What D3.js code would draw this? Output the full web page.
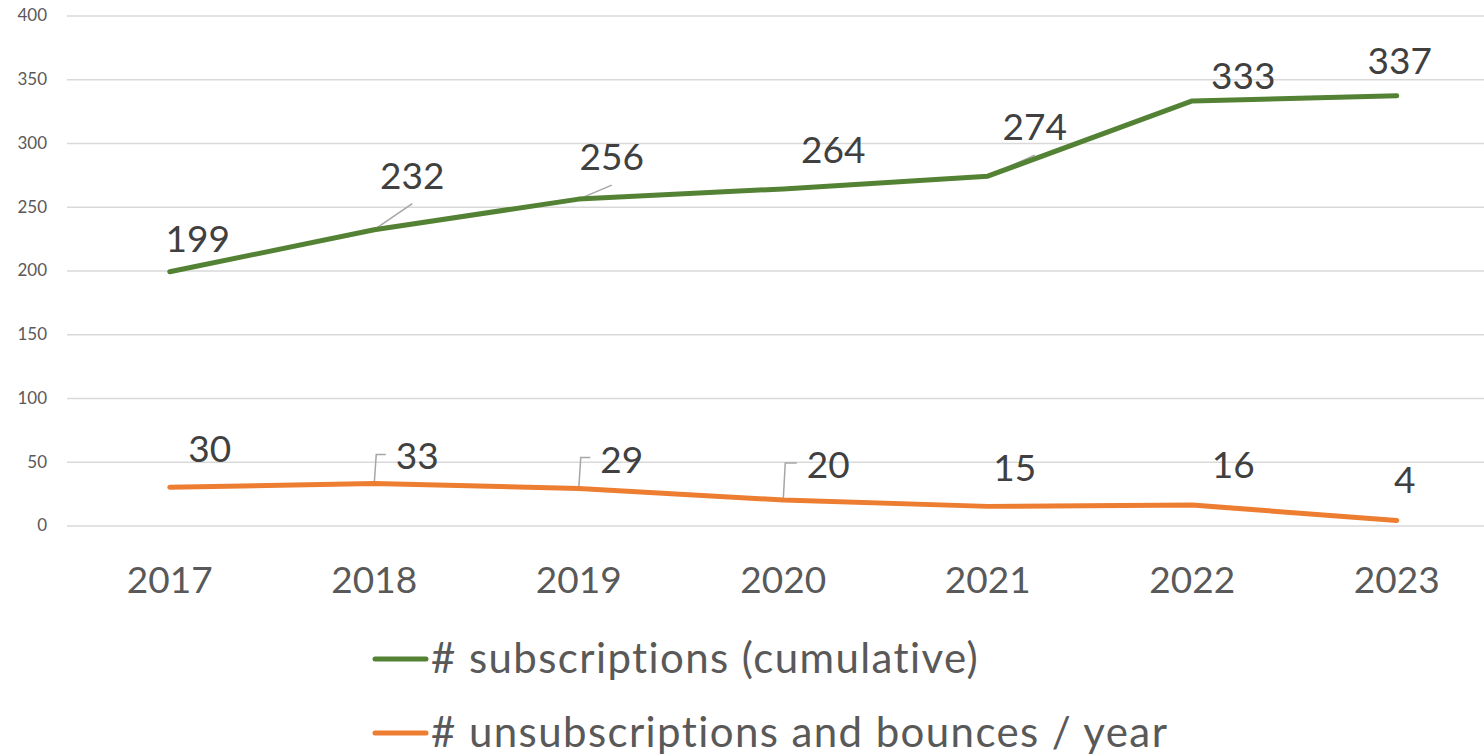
<!DOCTYPE html>
<html>
<head>
<meta charset="utf-8">
<script src="https://cdn.jsdelivr.net/npm/d3@7"></script>
<style>
  html, body { margin: 0; padding: 0; background: #fff; }
  svg text { font-family: Lato, "Open Sans", sans-serif; }
</style>
</head>
<body>
<svg id="chart" width="1484" height="756"></svg>
<script>
// chart data
const years = ["2017", "2018", "2019", "2020", "2021", "2022", "2023"];
const subscriptions = [199, 232, 256, 264, 274, 333, 337];
const unsubscriptions = [30, 33, 29, 20, 15, 16, 4];
const yTicks = [0, 50, 100, 150, 200, 250, 300, 350, 400];
const seriesNames = ["# subscriptions (cumulative)", "# unsubscriptions and bounces / year"];

// label placement (offset from the point: dx to text center, dy to baseline) and leader style
const subLabelOffsets = [[28, -20], [38, -41], [33, -29], [50, -26], [47, -36], [51, -12], [3, -22]];
const subLeaders = [null, "line", "line", null, "line", null, null];
const unsubLabelOffsets = [[40, -25], [43, -14], [43, -16], [45, -22], [27, -25], [41, -27], [8, -27]];
const unsubLeaders = [null, "elbow", "elbow", "elbow", null, null, null];

const GREEN = "#548235", ORANGE = "#ED7D31";
const svg = d3.select("#chart");

const x = d3.scaleBand()
  .domain(years)
  .range([67.5, 1499]);
const cx = d => x(d) + x.bandwidth() / 2;

const y = d3.scaleLinear()
  .domain([0, 400])
  .range([525.5, 15.5]);

// gridlines + y labels
const yAxis = svg.append("g")
  .attr("transform", "translate(67,0)")
  .call(d3.axisLeft(y).tickValues(yTicks).tickSize(-1484).tickPadding(20));
yAxis.select(".domain").remove();
yAxis.selectAll(".tick line").attr("stroke", "#d9d9d9").attr("stroke-width", 1.5);
yAxis.selectAll(".tick text")
  .attr("fill", "#595959")
  .attr("font-size", 17)
  .attr("font-family", "Lato, 'Open Sans', sans-serif");

// x labels
const xAxis = svg.append("g")
  .attr("transform", "translate(0,525.5)")
  .call(d3.axisBottom(x).tickSize(0).tickPadding(0));
xAxis.select(".domain").remove();
xAxis.selectAll(".tick text")
  .attr("dy", null)
  .attr("y", 67)
  .attr("fill", "#595959")
  .attr("font-size", 37)
  .attr("font-family", "Lato, 'Open Sans', sans-serif");

const line = d3.line()
  .x((d, i) => cx(years[i]))
  .y(d => y(d));

const leaderLayer = svg.append("g");

function drawSeries(values, color, offsets, leaders) {
  svg.append("path")
    .datum(values)
    .attr("d", line)
    .attr("fill", "none")
    .attr("stroke", color)
    .attr("stroke-width", 5)
    .attr("stroke-linecap", "round")
    .attr("stroke-linejoin", "round");

  values.forEach((v, i) => {
    const px = cx(years[i]), py = y(v);
    const lx = px + offsets[i][0], ly = py + offsets[i][1];
    const t = svg.append("text")
      .attr("x", lx)
      .attr("y", ly)
      .attr("text-anchor", "middle")
      .attr("fill", "#404040")
      .attr("font-size", 37)
      .text(v);
    if (leaders[i] === "line") {
      leaderLayer.append("path")
        .attr("d", `M${px},${py}L${lx},${ly + 15}`)
        .attr("stroke", "#a6a6a6").attr("stroke-width", 1.5).attr("fill", "none");
    } else if (leaders[i] === "elbow") {
      const left = lx - t.node().getComputedTextLength() / 2 - 10;
      leaderLayer.append("path")
        .attr("d", `M${px},${py}L${px + 2},${ly - 15}L${left},${ly - 15}`)
        .attr("stroke", "#a6a6a6").attr("stroke-width", 1.5).attr("fill", "none");
    }
  });
}

drawSeries(subscriptions, GREEN, subLabelOffsets, subLeaders);
drawSeries(unsubscriptions, ORANGE, unsubLabelOffsets, unsubLeaders);

// legend
const legend = svg.append("g");
[GREEN, ORANGE].forEach((c, i) => {
  const ly = 659 + i * 74;
  legend.append("line")
    .attr("x1", 375).attr("x2", 426)
    .attr("y1", ly).attr("y2", ly)
    .attr("stroke", c).attr("stroke-width", 5).attr("stroke-linecap", "round");
  legend.append("text")
    .attr("x", 431)
    .attr("y", ly + 14)
    .attr("fill", "#595959")
    .attr("font-size", 42)
    .attr("letter-spacing", 1.4)
    .text(seriesNames[i]);
});
</script>
</body>
</html>
